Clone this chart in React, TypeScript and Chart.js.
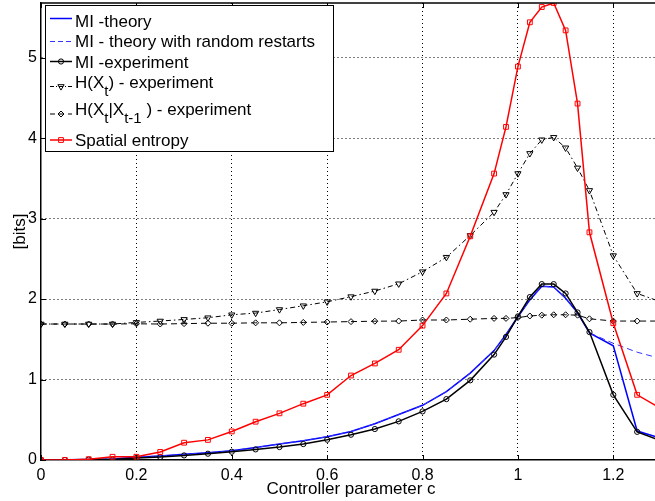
import React, { useEffect, useRef } from 'react';
import { Chart, registerables } from 'chart.js';

Chart.register(...registerables);

// ---------------- data ----------------
const cValues = [0, 0.05, 0.1, 0.15, 0.2, 0.25, 0.3, 0.35, 0.4, 0.45, 0.5, 0.55, 0.6, 0.65, 0.7, 0.75, 0.8, 0.85, 0.9, 0.95, 0.975, 1.0, 1.025, 1.05, 1.075, 1.1, 1.125, 1.15, 1.2, 1.25, 1.3];

const miTheory = [0, 0.002, 0.006, 0.012, 0.035, 0.05, 0.07, 0.09, 0.115, 0.155, 0.2, 0.24, 0.29, 0.355, 0.45, 0.565, 0.68, 0.85, 1.08, 1.36, 1.56, 1.78, 1.99, 2.16, 2.15, 2.01, 1.83, 1.58, 1.42, 0.36, 0.27];

const miTheoryRestarts = [0, 0.002, 0.006, 0.012, 0.035, 0.05, 0.07, 0.09, 0.115, 0.155, 0.2, 0.24, 0.29, 0.355, 0.45, 0.565, 0.68, 0.85, 1.08, 1.36, 1.56, 1.78, 1.99, 2.16, 2.15, 2.01, 1.83, 1.58, 1.45, 1.34, 1.26];

const miExperiment = [0, 0, 0.005, 0.005, 0.025, 0.037, 0.057, 0.078, 0.103, 0.132, 0.161, 0.198, 0.252, 0.314, 0.385, 0.48, 0.604, 0.757, 0.99, 1.31, 1.53, 1.785, 2.025, 2.186, 2.186, 2.07, 1.834, 1.59, 0.81, 0.35, 0.24];

const hXt = [1.69, 1.69, 1.69, 1.69, 1.71, 1.727, 1.747, 1.768, 1.805, 1.826, 1.87, 1.917, 1.966, 2.03, 2.1, 2.19, 2.34, 2.52, 2.79, 3.08, 3.3, 3.56, 3.81, 3.98, 4.01, 3.88, 3.63, 3.35, 2.54, 2.07, 1.965];

const hXtGivenPrev = [1.69, 1.69, 1.69, 1.69, 1.693, 1.69, 1.695, 1.7, 1.7, 1.705, 1.705, 1.71, 1.715, 1.72, 1.725, 1.727, 1.74, 1.74, 1.75, 1.76, 1.76, 1.77, 1.79, 1.8, 1.805, 1.805, 1.8, 1.755, 1.727, 1.727, 1.727];

const spatialEntropy = [0, 0, 0.01, 0.04, 0.04, 0.1, 0.215, 0.25, 0.355, 0.476, 0.58, 0.7, 0.81, 1.05, 1.2, 1.37, 1.67, 2.07, 2.78, 3.56, 4.14, 4.89, 5.44, 5.63, 5.68, 5.34, 4.43, 2.83, 1.7, 0.81, 0.64];

const xTickValues = [0, 0.2, 0.4, 0.6, 0.8, 1, 1.2];
const xTickLabels = ['0', '0.2', '0.4', '0.6', '0.8', '1', '1.2'];
const yTickValues = [0, 1, 2, 3, 4, 5];
const yTickLabels = ['0', '1', '2', '3', '4', '5'];

const xTitle = 'Controller parameter c';
const yTitle = '[bits]';

type Seg = { text: string; sub?: boolean };
const legendLabels: Seg[][] = [
  [{ text: 'MI -theory' }],
  [{ text: 'MI - theory with random restarts' }],
  [{ text: 'MI -experiment' }],
  [{ text: 'H(X' }, { text: 't', sub: true }, { text: ') - experiment' }],
  [{ text: 'H(X' }, { text: 't', sub: true }, { text: '|X' }, { text: 't-1', sub: true }, { text: ' ) - experiment' }],
  [{ text: 'Spatial entropy' }],
];

// ---------------- styles ----------------
const FONT = '"Liberation Sans", Arial, Helvetica, sans-serif';

type Style = {
  color: string;
  width: number;
  dash: number[];
  legendDash: number[];
  marker: 'none' | 'circle' | 'triangleDown' | 'diamond' | 'square';
  radius: number;
};

const seriesStyles: Style[] = [
  { color: '#0000ff', width: 1.5, dash: [], legendDash: [], marker: 'none', radius: 0 },
  { color: '#3333ff', width: 1, dash: [6, 4], legendDash: [5, 3], marker: 'none', radius: 0 },
  { color: '#000000', width: 1.5, dash: [], legendDash: [], marker: 'circle', radius: 2.6 },
  { color: '#000000', width: 1, dash: [5, 3, 1.5, 3], legendDash: [4, 2, 1, 2], marker: 'triangleDown', radius: 3.6 },
  { color: '#000000', width: 1, dash: [6, 4], legendDash: [5, 4], marker: 'diamond', radius: 3 },
  { color: '#ff0000', width: 1.5, dash: [], legendDash: [], marker: 'square', radius: 3.4 },
];

const seriesData = [miTheory, miTheoryRestarts, miExperiment, hXt, hXtGivenPrev, spatialEntropy];

function pointStyleFor(m: Style['marker']) {
  switch (m) {
    case 'circle': return 'circle';
    case 'triangleDown': return 'triangle';
    case 'diamond': return 'rectRot';
    case 'square': return 'rect';
    default: return 'circle';
  }
}

function drawMarker(ctx: CanvasRenderingContext2D, m: Style['marker'], x: number, y: number, r: number, color: string) {
  if (m === 'none') return;
  ctx.save();
  ctx.setLineDash([]);
  ctx.strokeStyle = color;
  ctx.lineWidth = 1;
  ctx.beginPath();
  if (m === 'circle') {
    ctx.arc(x, y, r, 0, Math.PI * 2);
  } else if (m === 'triangleDown') {
    const s = r;
    ctx.moveTo(x - s * 0.866, y - s * 0.5);
    ctx.lineTo(x + s * 0.866, y - s * 0.5);
    ctx.lineTo(x, y + s);
    ctx.closePath();
  } else if (m === 'diamond') {
    ctx.moveTo(x, y - r);
    ctx.lineTo(x + r, y);
    ctx.lineTo(x, y + r);
    ctx.lineTo(x - r, y);
    ctx.closePath();
  } else if (m === 'square') {
    const h = r * Math.SQRT1_2;
    ctx.rect(x - h, y - h, 2 * h, 2 * h);
  }
  ctx.stroke();
  ctx.restore();
}

const framePlugin = {
  id: 'matlabFrame',
  afterDraw(chart: any) {
    const { ctx, chartArea } = chart;
    const { left, top, right, bottom } = chartArea;
    const xs = chart.scales.x;
    const ys = chart.scales.y;
    ctx.save();
    // top box edge
    ctx.strokeStyle = '#000';
    ctx.lineWidth = 1.5;
    ctx.setLineDash([]);
    ctx.beginPath();
    ctx.moveTo(left, top);
    ctx.lineTo(right, top);
    ctx.stroke();
    // inward ticks
    ctx.lineWidth = 1;
    const tl = 5;
    xs.ticks.forEach((t: any) => {
      const px = Math.round(xs.getPixelForValue(t.value)) + 0.5;
      ctx.beginPath();
      ctx.moveTo(px, bottom);
      ctx.lineTo(px, bottom - tl);
      ctx.moveTo(px, top);
      ctx.lineTo(px, top + tl);
      ctx.stroke();
    });
    ys.ticks.forEach((t: any) => {
      const py = Math.round(ys.getPixelForValue(t.value)) + 0.5;
      ctx.beginPath();
      ctx.moveTo(left, py);
      ctx.lineTo(left + tl, py);
      ctx.moveTo(right, py);
      ctx.lineTo(right - tl, py);
      ctx.stroke();
    });

    // legend box
    const bx = 45.5, by = 5.5, bw = 288, bh = 146;
    ctx.fillStyle = '#fff';
    ctx.fillRect(bx, by, bw, bh);
    ctx.strokeStyle = '#000';
    ctx.lineWidth = 1;
    ctx.strokeRect(bx, by, bw, bh);

    const lineY = [18.5, 41.5, 61.5, 86.5, 114, 140];
    const baseY = [26.5, 47, 67.5, 87.5, 114.5, 146];
    const x1 = 50, x2 = 72, tx = 75;
    legendLabels.forEach((segs, i) => {
      const st = seriesStyles[i];
      ctx.save();
      ctx.strokeStyle = st.color;
      ctx.lineWidth = st.width;
      ctx.setLineDash(st.legendDash);
      ctx.beginPath();
      ctx.moveTo(x1, lineY[i]);
      ctx.lineTo(x2, lineY[i]);
      ctx.stroke();
      ctx.restore();
      drawMarker(ctx, st.marker, (x1 + x2) / 2, lineY[i], st.radius, st.color);
      let cx = tx;
      ctx.fillStyle = '#000';
      ctx.textBaseline = 'alphabetic';
      ctx.textAlign = 'left';
      segs.forEach((sg) => {
        ctx.font = sg.sub ? `15px ${FONT}` : `17px ${FONT}`;
        const yy = sg.sub ? baseY[i] + 8.5 : baseY[i];
        ctx.fillText(sg.text, cx, yy);
        cx += ctx.measureText(sg.text).width;
      });
    });
    ctx.restore();
  },
};

export default function App() {
  const canvasRef = useRef<HTMLCanvasElement | null>(null);

  useEffect(() => {
    document.body.style.margin = '0';
    document.body.style.overflow = 'hidden';
    const canvas = canvasRef.current;
    if (!canvas) return;

    const datasets = seriesData.map((vals, i) => {
      const st = seriesStyles[i];
      return {
        label: legendLabels[i].map((s) => s.text).join(''),
        data: vals.map((v, j) => ({ x: cValues[j], y: v })),
        borderColor: st.color,
        borderWidth: st.width,
        borderDash: st.dash,
        backgroundColor: 'rgba(0,0,0,0)',
        pointStyle: pointStyleFor(st.marker),
        pointRadius: st.marker === 'none' ? 0 : st.radius,
        pointRotation: st.marker === 'triangleDown' ? 180 : 0,
        pointBorderColor: st.color,
        pointBackgroundColor: 'rgba(0,0,0,0)',
        pointBorderWidth: 1,
        tension: 0,
        fill: false,
        order: seriesData.length - i,
      };
    });

    const chart = new Chart(canvas, {
      type: 'line',
      data: { datasets },
      options: {
        animation: false,
        responsive: false,
        maintainAspectRatio: false,
        events: [],
        layout: { autoPadding: false, padding: { top: 3, right: 0, bottom: 0, left: 0 } },
        plugins: {
          legend: { display: false },
          tooltip: { enabled: false },
          title: { display: false },
        },
        scales: {
          x: {
            type: 'linear',
            min: 0,
            max: 1.3,
            afterBuildTicks: (s: any) => {
              s.ticks = xTickValues.map((v) => ({ value: v }));
            },
            afterFit: (s: any) => {
              s.height = 41;
              s.paddingLeft = 0;
              s.paddingRight = 0;
            },
            ticks: {
              autoSkip: false,
              maxRotation: 0,
              padding: 6,
              color: '#000',
              font: { family: FONT, size: 16 },
              callback: (_v: any, i: number) => xTickLabels[i],
            },
            grid: {
              color: (c: any) => (c.tick && c.tick.value === 0 ? 'rgba(0,0,0,0)' : '#000'),
              lineWidth: 1,
              drawTicks: false,
            },
            border: { display: true, color: '#000', width: 1.5, dash: [1, 3] },
            title: {
              display: true,
              text: xTitle,
              color: '#000',
              font: { family: FONT, size: 17 },
              padding: { top: 0, bottom: 1 },
            },
          },
          y: {
            type: 'linear',
            min: 0,
            max: 5.68,
            afterBuildTicks: (s: any) => {
              s.ticks = yTickValues.map((v) => ({ value: v }));
            },
            afterFit: (s: any) => {
              s.width = 41;
              s.paddingTop = 0;
              s.paddingBottom = 0;
            },
            ticks: {
              autoSkip: false,
              padding: 4,
              color: '#000',
              font: { family: FONT, size: 16 },
              callback: (_v: any, i: number) => yTickLabels[i],
            },
            grid: {
              color: (c: any) => (c.tick && c.tick.value === 0 ? 'rgba(0,0,0,0)' : '#000'),
              lineWidth: 1,
              drawTicks: false,
            },
            border: { display: true, color: '#000', width: 1.5, dash: [1, 3] },
            title: {
              display: true,
              text: yTitle,
              color: '#000',
              font: { family: FONT, size: 17 },
              padding: { top: 10, bottom: 0 },
            },
          },
        },
      },
      plugins: [framePlugin],
    });

    return () => {
      chart.destroy();
    };
  }, []);

  return (
    <div style={{ width: 655, height: 501, overflow: 'hidden', background: '#fff' }}>
      <canvas ref={canvasRef} width={661} height={501} style={{ display: 'block', width: 661, height: 501 }} />
    </div>
  );
}
